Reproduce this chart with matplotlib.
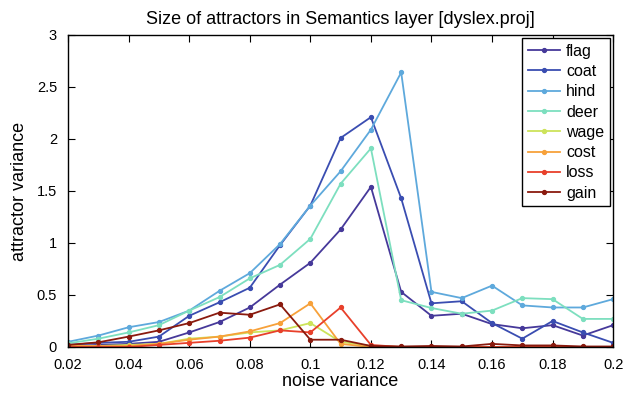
import matplotlib
matplotlib.use("Agg")
import matplotlib.pyplot as plt
import numpy as np

plt.rcParams['font.family'] = ['Liberation Sans', 'DejaVu Sans']

noise = [0.02, 0.03, 0.04, 0.05, 0.06, 0.07, 0.08, 0.09, 0.10, 0.11,
         0.12, 0.13, 0.14, 0.15, 0.16, 0.17, 0.18, 0.19, 0.20]

flag = [0.01, 0.02, 0.03, 0.05, 0.14, 0.24, 0.38, 0.60, 0.81, 1.13,
        1.54, 0.53, 0.30, 0.32, 0.22, 0.18, 0.21, 0.11, 0.21]
coat = [0.02, 0.04, 0.05, 0.10, 0.30, 0.43, 0.57, 0.98, 1.36, 2.01,
        2.21, 1.43, 0.42, 0.44, 0.23, 0.08, 0.25, 0.14, 0.04]
hind = [0.05, 0.11, 0.19, 0.24, 0.35, 0.54, 0.71, 0.99, 1.36, 1.69,
        2.09, 2.64, 0.53, 0.47, 0.59, 0.40, 0.38, 0.38, 0.46]
deer = [0.035, 0.08, 0.14, 0.21, 0.35, 0.48, 0.66, 0.79, 1.04, 1.57,
        1.91, 0.45, 0.375, 0.32, 0.35, 0.47, 0.46, 0.27, 0.27]
wage = [0.01, 0.01, 0.02, 0.03, 0.08, 0.10, 0.14, 0.16, 0.23, 0.05,
        0.01, 0.0, 0.0, 0.0, 0.0, 0.0, 0.0, 0.0, 0.0]
cost = [0.01, 0.01, 0.01, 0.03, 0.07, 0.10, 0.15, 0.23, 0.42, 0.03,
        0.0, 0.0, 0.0, 0.0, 0.0, 0.0, 0.0, 0.0, 0.0]
loss = [0.0, 0.0, 0.0, 0.02, 0.04, 0.06, 0.09, 0.16, 0.14, 0.38,
        0.02, 0.0, 0.0, 0.0, 0.0, 0.0, 0.0, 0.0, 0.0]
gain = [0.02, 0.045, 0.10, 0.16, 0.23, 0.33, 0.31, 0.41, 0.07, 0.07,
        0.01, 0.005, 0.01, 0.005, 0.03, 0.015, 0.015, 0.005, 0.005]

series = [("flag", flag, "#46399a"), ("coat", coat, "#3a4db1"),
          ("hind", hind, "#5ea9dc"), ("deer", deer, "#7ddfbf"),
          ("wage", wage, "#cde35a"), ("cost", cost, "#f7a13a"),
          ("loss", loss, "#e8402b"), ("gain", gain, "#8a1a0e")]

fig = plt.figure(figsize=(6.25, 4), dpi=100)
ax = fig.add_axes([0.109, 0.1325, 0.872, 0.78])

for name, vals, col in series:
    ax.plot(noise, vals, "-o", color=col, lw=1.3, ms=2.8, label=name)

ax.set_xlim(0.02, 0.2)
ax.set_ylim(0, 3)
ax.set_xticks(np.arange(0.02, 0.201, 0.02))
ax.set_xticklabels(["0.02", "0.04", "0.06", "0.08", "0.1", "0.12", "0.14", "0.16", "0.18", "0.2"])
ax.set_yticks([0, 0.5, 1, 1.5, 2, 2.5, 3])
ax.set_yticklabels(["0", "0.5", "1", "1.5", "2", "2.5", "3"])
ax.tick_params(direction="in", top=True, right=True, labelsize=10.5, length=5)
ax.tick_params(axis="x", pad=8)
ax.tick_params(axis="y", pad=8)
for s in ax.spines.values():
    s.set_linewidth(1.0)

ax.set_title("Size of attractors in Semantics layer [dyslex.proj]", fontsize=13, pad=8)
ax.set_xlabel("noise variance", fontsize=13, labelpad=1)
ax.set_ylabel("attractor variance", fontsize=13, labelpad=6)

leg = ax.legend(loc="upper right", fancybox=False, edgecolor="black", framealpha=1,
                fontsize=11.5, handlelength=2.0, handletextpad=0.4,
                labelspacing=0.33, borderaxespad=0.2, borderpad=0.35)
leg.get_frame().set_linewidth(1.0)

fig.savefig("out.png", dpi=100)
